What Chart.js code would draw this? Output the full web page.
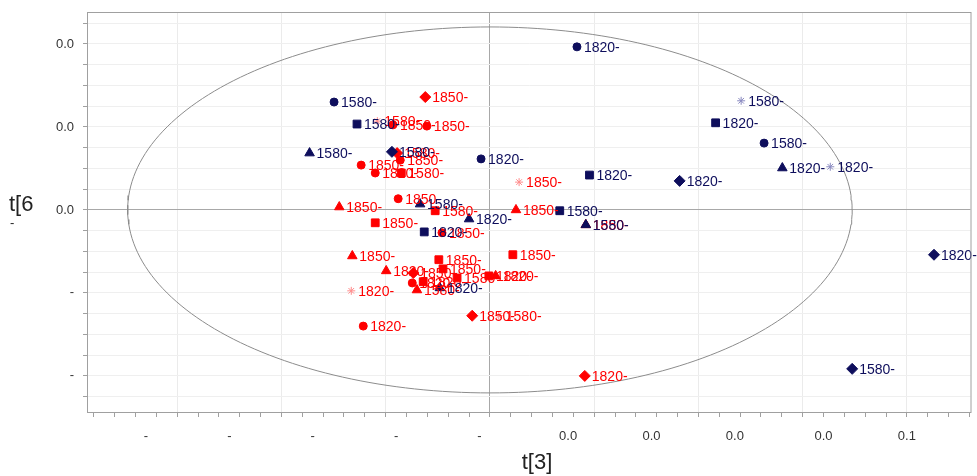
<!DOCTYPE html>
<html>
<head>
<meta charset="utf-8">
<script src="https://cdn.jsdelivr.net/npm/chart.js@4.4.0/dist/chart.umd.min.js"></script>
<style>
html, body { margin: 0; padding: 0; background: #fff; }
#wrap { width: 977px; height: 476px; }
</style>
</head>
<body>
<div id="wrap"><canvas id="scoreChart" width="977" height="476"></canvas></div>
<script>
// navy group (scores t[3] / t[6])
var navyX = [0.0167, -0.0299, 0.0482, 0.0433, -0.0255, 0.0526, -0.0346, -0.0188, -0.0017, 0.0561, 0.0653,
             0.0191, 0.0364, 0.0134, -0.0134, -0.0040, -0.0126, 0.0184, 0.0852, -0.0096, 0.0695];
var navyY = [0.0393, 0.0260, 0.0263, 0.0210, 0.0207, 0.0161, 0.0137, 0.0140, 0.0123, 0.0101, 0.0104,
             0.0084, 0.0070, -0.0002, 0.0014, -0.0022, -0.0053, -0.0036, -0.0108, -0.0188, -0.0383];
var navyShape = ['circle', 'circle', 'star', 'rect', 'rect', 'circle', 'triangle', 'rectRot', 'circle', 'triangle', 'star',
                 'rect', 'rectRot', 'rect', 'triangle', 'triangle', 'rect', 'triangle', 'rectRot', 'triangle', 'rectRot'];
var navyName = ['1820-', '1580-', '1580-', '1820-', '1580-', '1580-', '1580-', '1580-', '1820-', '1820-', '1820-',
                '1820-', '1820-', '1580-', '1580-', '1820-', '1820-', '1580-', '1820-', '1820-', '1580-'];

// red group
var redX = [-0.0124, -0.0216, -0.0186, -0.0121, -0.0178, -0.0172, -0.0247, -0.0220, -0.0170, -0.0176, -0.0289, -0.0105,
            0.0050, -0.0220, -0.0092, -0.0264, 0.0044, -0.0098, -0.0199, -0.0090, -0.0147, -0.0063, -0.0002, 0.0011,
            -0.0149, -0.0128, -0.0140, -0.0266, -0.0034, 0.0017, -0.0243, 0.0182, 0.0056, 0.0184];
var redY = [0.0272, 0.0214, 0.0205, 0.0202, 0.0137, 0.0120, 0.0108, 0.0089, 0.0089, 0.0027, 0.0007, -0.0002,
            0.0000, -0.0031, -0.0055, -0.0111, -0.0108, -0.0120, -0.0147, -0.0142, -0.0152, -0.0164, -0.0159, -0.0159,
            -0.0176, -0.0173, -0.0193, -0.0195, -0.0255, -0.0255, -0.0280, -0.0400, 0.0067, -0.0036];
var redShape = ['rectRot', 'star', 'circle', 'circle', 'rectRot', 'circle', 'circle', 'circle', 'rect', 'circle', 'triangle', 'rect',
                'triangle', 'rect', 'circle', 'triangle', 'rect', 'rect', 'triangle', 'rect', 'rectRot', 'rect', 'rect', 'triangle',
                'circle', 'rect', 'triangle', 'star', 'rectRot', 'star', 'circle', 'rectRot', 'star', 'triangle'];
var redName = ['1850-', '1580-', '1850-', '1850-', '1580-', '1850-', '1850-', '1820-', '1580-', '1850-', '1850-', '1580-',
               '1850-', '1850-', '1850-', '1850-', '1850-', '1850-', '1820-', '1850-', '1850-', '1580-', '1820-', '1820-',
               '1820-', '1820-', '1580-', '1820-', '1850-', '1580-', '1820-', '1820-', '1850-', '1850-'];

// Hotelling ellipse semi-axes
var ellipseRx = 0.0695, ellipseRy = 0.0441;

// axes
var xMin = -0.0773, xMax = 0.0922;
var yMin = -0.0487, yMax = 0.0477;
var xLabelPos = [-0.066, -0.050, -0.034, -0.018, -0.002, 0.015, 0.031, 0.047, 0.064, 0.080];
var xLabels = ['-', '-', '-', '-', '-', '0.0', '0.0', '0.0', '0.0', '0.1'];
var yMajor = [0.04, 0.02, 0, -0.02, -0.04];
var yLabels = ['0.0', '0.0', '0.0', '-', '-'];

var navyCol = '#0e0e5c', navyStar = '#8a8ac0';
var redCol = '#ff0000', redStar = '#ff8c8c';

var xMinor = [], yMinor = [];
for (var i = -19; i <= 23; i++) xMinor.push(i * 0.004);
for (var j = -9; j <= 9; j++) yMinor.push(j * 0.005);

function near(a, b) { return Math.abs(a - b) < 1e-6; }
function sizeOf(s) { return s == 'circle' ? 4 : (s == 'star' ? 4 : 5.5); }
function noPad(s) { s.paddingTop = 0; s.paddingBottom = 0; s.paddingLeft = 0; s.paddingRight = 0; }

function makeSet(xs, ys, shapes, names, col, starCol) {
    return {
        data: xs.map(function (x, i) { return { x: x, y: ys[i] }; }),
        names: names,
        textColor: col,
        pointStyle: shapes,
        pointRadius: shapes.map(sizeOf),
        pointBackgroundColor: col,
        pointBorderColor: shapes.map(function (s) { return s == 'star' ? starCol : col; }),
        pointBorderWidth: 1,
        showLine: false,
        order: 1
    };
}

var ellipse = [];
for (var k = 0; k <= 240; k++) {
    var t = k / 240 * 2 * Math.PI;
    ellipse.push({ x: ellipseRx * Math.cos(t), y: ellipseRy * Math.sin(t) });
}

var labelPlugin = {
    id: 'labelPlugin',
    afterDatasetsDraw: function (chart) {
        var c = chart.ctx;
        // navy labels first, red text on top as in the original
        for (var i = chart.data.datasets.length - 1; i >= 0; i--) {
            var ds = chart.data.datasets[i];
            if (!ds.names) continue;
            var meta = chart.getDatasetMeta(i);
            c.save();
            c.font = '14px "Liberation Sans", Arial, sans-serif';
            c.fillStyle = ds.textColor;
            c.textBaseline = 'middle';
            meta.data.forEach(function (pt, n) {
                c.fillText(ds.names[n], pt.x + 7, pt.y + 1);
            });
            c.restore();
        }
    },
    afterDraw: function (chart) {
        var c = chart.ctx, a = chart.chartArea;
        c.save();
        c.strokeStyle = '#a0a0a0';
        c.lineWidth = 1;
        c.strokeRect(a.left + 0.5, a.top + 0.5, a.right - a.left, a.bottom - a.top);
        c.fillStyle = '#222';
        c.font = '22px "Liberation Sans", Arial, sans-serif';
        c.textBaseline = 'middle';
        c.textAlign = 'left';
        c.fillText('t[6', 9, 205);
        c.font = '13px "Liberation Sans", Arial, sans-serif';
        c.fillText('-', 10, 223);
        c.font = '22px "Liberation Sans", Arial, sans-serif';
        c.textAlign = 'center';
        c.fillText('t[3]', 537, 463);
        c.restore();
    }
};

Chart.defaults.font.family = '"Liberation Sans", Arial, sans-serif';

var scoreChart = new Chart(document.getElementById('scoreChart'), {
    type: 'scatter',
    data: {
        datasets: [
            makeSet(navyX, navyY, navyShape, navyName, navyCol, navyStar),
            makeSet(redX, redY, redShape, redName, redCol, redStar),
            {
                data: ellipse,
                showLine: true,
                borderColor: '#8c8c8c',
                borderWidth: 1,
                pointRadius: 0,
                fill: false,
                order: 3
            }
        ]
    },
    options: {
        responsive: false,
        animation: false,
        layout: { padding: { top: 12, right: 4, left: 0, bottom: 0 } },
        plugins: { legend: { display: false }, tooltip: { enabled: false } },
        scales: {
            xg: {
                type: 'linear', position: 'bottom', weight: 0,
                min: xMin, max: xMax,
                afterBuildTicks: function (s) { s.ticks = xMinor.map(function (v) { return { value: v }; }); },
                afterFit: function (s) { s.height = 5; noPad(s); },
                ticks: { display: false },
                border: { display: false },
                grid: {
                    drawTicks: true, tickLength: 5,
                    color: function (c) {
                        var v = c.tick ? c.tick.value : 1;
                        if (near(v, 0)) return '#a8a8a8';
                        return near(Math.round(v / 0.02) * 0.02, v) ? '#ebebeb' : 'rgba(0,0,0,0)';
                    },
                    tickColor: '#a0a0a0'
                }
            },
            x: {
                type: 'linear', position: 'bottom', weight: 1,
                min: xMin, max: xMax,
                afterBuildTicks: function (s) { s.ticks = xLabelPos.map(function (v) { return { value: v }; }); },
                afterFit: function (s) { s.height = 59; noPad(s); },
                border: { display: false },
                grid: { display: false, drawTicks: false },
                ticks: {
                    autoSkip: false, maxRotation: 0, padding: 12,
                    color: '#333',
                    font: { size: 13, family: '"Liberation Sans Narrow", "Liberation Sans", Arial, sans-serif' },
                    callback: function (v, idx) { return xLabels[idx]; }
                }
            },
            y: {
                min: yMin, max: yMax,
                afterBuildTicks: function (s) { s.ticks = yMinor.map(function (v) { return { value: v }; }); },
                afterFit: function (s) { s.width = 87; noPad(s); },
                border: { color: '#a0a0a0' },
                grid: {
                    drawTicks: true, tickLength: 4,
                    color: function (c) {
                        var v = c.tick ? c.tick.value : 1;
                        return near(v, 0) ? '#a8a8a8' : '#efefef';
                    },
                    tickColor: '#a0a0a0'
                },
                ticks: {
                    padding: 9, color: '#333',
                    font: { size: 13 },
                    callback: function (v) {
                        for (var m = 0; m < yMajor.length; m++) {
                            if (near(yMajor[m], v)) return yLabels[m];
                        }
                        return '';
                    }
                }
            }
        }
    },
    plugins: [labelPlugin]
});
</script>
</body>
</html>
